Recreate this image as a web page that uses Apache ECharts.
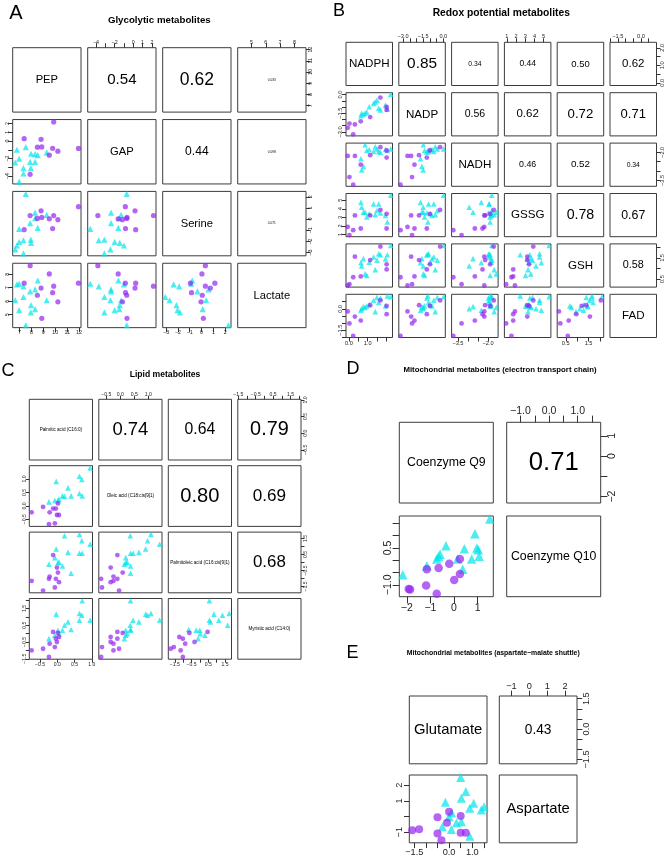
<!DOCTYPE html>
<html><head><meta charset="utf-8">
<script src="https://cdn.jsdelivr.net/npm/echarts@6/dist/echarts.min.js"></script>
<style>html,body{margin:0;padding:0;background:#fff}#c{width:670px;height:865px}</style>
</head><body><div id="c"></div>
<script>
// ================= DATA =================
// ---- Panel A: Glycolytic metabolites ----
const A_names = ['PEP', 'GAP', 'Serine', 'Lactate'];
const A_purple_PEP     = [7.89, 7.39, 9.50, 8.81, 8.50, 9.87, 9.78, 10.22, 8.87, 11.95];
const A_purple_GAP     = [-3.80, 0.26, -1.62, 0.19, -0.70, 2.17, -0.83, -1.16, -0.67, -0.85];
const A_purple_Serine  = [0.32, -0.94, 0.03, 0.74, 0.06, 0.32, -0.85, -0.05, 0.15, 1.12];
const A_purple_Lactate = [8.63, 7.33, 8.02, 6.97, 6.44, 7.11, 6.63, 5.95, 4.73, 7.33];
const A_cyan_PEP     = [6.64, 6.78, 6.97, 6.97, 7.33, 7.33, 7.53, 7.89, 7.97, 7.95, 8.31, 8.31, 8.53, 9.28];
const A_cyan_GAP     = [-2.45, -1.00, -4.62, -2.00, -3.10, -3.70, -0.70, -2.38, -1.45, -3.10, -2.38, -1.50, -1.60, -1.30];
const A_cyan_Serine  = [-2.70, -2.36, -0.88, -2.03, -3.07, -1.89, 2.27, -0.35, -2.12, -1.83, 0.59, 0.09, -0.79, 0.39];
const A_cyan_Lactate = [6.07, 7.24, 7.29, 5.34, 6.31, 7.09, 4.22, 6.73, 5.71, 5.17, 6.87, 5.41, 7.53, 6.07];
const A_ticks = [[7,8,9,10,11,12], [-4,-3,-2,-1,0,1,2], [-3,-2,-1,0,1,2], [5,6,7,8]];
const A_xlabels = [[7,8,9,10,11,12], [-4,-2,0,1,2], [-3,-2,-1,0,1,2], [5,6,7,8]];
const A_ylabels = [[7,8,9,10,11,12], [-4,-2,0,1,2], [-3,-2,-1,0,1,2], [5,6,7,8]];
const A_corr = ['0.54', '0.62', '0.033', '0.44', '0.098', '0.071'];

// ---- Panel B: Redox potential metabolites ----
const B_names = ['NADPH', 'NADP', 'NADH', 'GSSG', 'GSH', 'FAD'];
const B_purple_NADPH = [-0.06, 0.03, 0.23, 0.32, 0.63, 1.13, 1.67, 2.00, 2.00];
const B_purple_NADP  = [-2.67, -2.33, -3.19, -2.40, -2.15, -1.81, -0.24, -1.23, -1.00];
const B_purple_NADH  = [-2.19, -3.32, -3.73, -2.19, -2.66, -2.15, -1.72, -2.28, -1.90];
const B_purple_GSSG  = [1.88, 0.92, 1.50, 3.22, 1.69, 3.22, 3.87, 1.69, 3.41];
const B_purple_GSH   = [0.20, 0.26, 0.59, 1.56, 0.63, 1.40, 2.04, 0.96, 1.20];
const B_purple_FAD   = [-0.19, -1.03, -1.90, -0.55, -0.83, 0.25, 0.58, -0.38, 0.20];
const B_cyan_NADPH = [0.64, 0.68, 0.77, 0.86, 0.95, 1.08, 1.31, 1.49, 1.58, 1.67, 1.94, 2.04, 2.22, 1.40];
const B_cyan_NADP  = [-1.70, -1.50, -1.60, -1.49, -1.40, -0.98, -0.71, -0.45, -1.10, -1.23, -0.84, -1.15, 0.02, -0.60];
const B_cyan_NADH  = [-2.34, -2.94, -2.75, -1.59, -1.90, -1.85, -1.95, -1.82, -1.95, -1.99, -1.85, -1.90, -1.82, -1.70];
const B_cyan_GSSG  = [4.75, 4.17, 3.60, 3.60, 3.03, 3.41, 4.56, 3.79, 4.56, 3.50, 3.22, 2.45, 5.60, 3.30];
const B_cyan_GSH   = [1.28, 1.12, 1.47, 0.75, 0.68, 1.30, 1.55, 1.40, 1.70, 1.65, 1.45, 1.65, 2.09, 0.95];
const B_cyan_FAD   = [-0.10, 0.00, 0.15, 0.10, 0.20, 0.30, 0.60, 0.80, 0.45, 0.75, 0.20, 0.90, 0.85, -0.20];
const B_ticks = [[0,0.5,1,1.5,2], [-3,-2.5,-2,-1.5,-1,-0.5,0], [-3.5,-3,-2.5,-2,-1.5], [1,2,3,4,5], [0.5,1,1.5,2], [-2,-1.5,-1,-0.5,0,0.5]];
const B_xlabels = [[0,1], [-3,-1.5,0], [-3.5,-2], [1,2,3,4,5], [0.5,1.5], [-1.5,0]];
const B_ylabels = [[0,1,2], [-3,-1.5,0], [-3.5,-2], [1,2,3,4,5], [0.5,1.5], [-1.5,0]];
const B_corr = ['0.85','0.34','0.44','0.50','0.62', '0.56','0.62','0.72','0.71', '0.46','0.52','0.34', '0.78','0.67', '0.58'];

// ---- Panel C: Lipid metabolites ----
const C_names = ['Palmitic acid (C16:0)', 'Oleic acid (C18:cis[9]1)', 'Palmitoleic acid (C16:cis[9]1)', 'Myristic acid (C14:0)'];
const C_purple_Palmitic    = [-0.74, -0.41, -0.24, -0.22, -0.12, -0.07, -0.04, -0.01, 0.02, 0.05];
const C_purple_Oleic       = [-0.24, -0.04, -0.68, -0.24, -0.10, -0.65, -0.10, -0.34, 0.09, -0.34];
const C_purple_Palmitoleic = [-1.15, -1.75, -1.02, -0.88, 0.46, -1.56, -1.02, -0.32, -0.63, -1.23];
const C_purple_Myristic    = [-1.00, -0.90, -1.39, -0.60, 0.10, -0.80, -0.30, -0.50, 0.04, -0.20];
const C_cyan_Palmitic    = [0.95, -0.03, 0.64, 0.71, 0.31, 0.15, 0.40, 0.64, 0.72, -0.07, 0.02, -0.24, 0.21, 0.05];
const C_cyan_Oleic       = [1.41, 0.91, 1.10, 0.98, 0.67, 0.37, 0.37, 0.46, 0.37, 0.20, 0.20, 0.15, 0.36, 0.25];
const C_cyan_Palmitoleic = [1.13, 0.84, 1.75, 1.35, 0.63, -0.22, -0.67, 0.57, 0.57, 0.30, -0.01, -0.11, 1.66, 0.02];
const C_cyan_Myristic    = [0.80, 1.16, 1.20, 1.10, 0.70, 0.20, 0.25, 0.80, 1.96, -0.10, 0.20, -0.30, 0.50, 0.00];
const C_ticks = [[-0.5,0,0.5,1], [-0.5,0,0.5,1], [-1.5,-1,-0.5,0,0.5,1,1.5], [-1.5,-1,-0.5,0,0.5,1,1.5,2]];
const C_xlabels = [[-0.5,0,0.5,1], [-0.5,0,0.5,1], [-1.5,-0.5,0.5,1.5], [-1.5,-0.5,0.5,1.5]];
const C_ylabels = [[-0.5,0,0.5,1], [-0.5,0,0.5,1], [-1.5,-0.5,0.5,1.5], [-1.5,-0.5,0.5,1.5]];
const C_corr = ['0.74','0.64','0.79','0.80','0.69','0.68'];

// ---- Panel D: electron transport chain ----
const D_names = ['Coenzyme Q9', 'Coenzyme Q10'];
const D_purple_Q9  = [-1.86, -1.92, -1.15, -1.18, -0.73, -0.65, -0.20, 0.01, 0.25, 0.25];
const D_purple_Q10 = [-1.19, -1.17, -0.36, -1.03, -1.36, -0.31, -0.14, -0.80, 0.05, -0.56];
const D_cyan_Q9  = [-2.17, -1.15, -0.73, -0.59, -0.34, 0.15, 0.37, 0.44, 0.75, 0.89, 1.03, 1.07, 1.52, -0.65, 0.97];
const D_cyan_Q10 = [-0.59, -0.22, 0.05, 0.25, 0.59, 0.05, -0.36, 0.47, 0.05, 1.08, 0.43, 0.16, 1.68, 0.15, 0.50];
const D_ticks = [[-2,-1,0,1], [-1,-0.5,0,0.5,1,1.5]];
const D_xlabels = [[-2,-1,0,1], [-1,0,1]];
const D_ylabels = [[-2,0,1], [-1,0.5]];
const D_corr = ['0.71'];

// ---- Panel E: aspartate-malate shuttle ----
const E_names = ['Glutamate', 'Aspartate'];
const E_purple_Glu = [-1.59, -1.29, -0.50, -0.50, -0.33, -0.09, 0.00, 0.50, 0.50, 0.72];
const E_purple_Asp = [-0.87, -0.81, -0.05, -1.09, -1.52, -0.40, 0.31, 0.03, -1.04, -1.04];
const E_cyan_Glu = [0.50, 0.72, 0.53, -0.16, 1.06, 0.89, 1.51, 1.39, 0.11, 0.00, 0.32, 0.53, -0.29, 0.10, 0.89];
const E_cyan_Asp = [2.50, 1.60, 1.17, 0.91, 0.85, 0.53, 0.63, 0.42, 0.25, -0.01, -0.40, -0.33, -0.66, -0.83, -1.26];
const E_ticks = [[-1.5,-1,-0.5,0,0.5,1,1.5], [-1,0,1,2]];
const E_xlabels = [[-1.5,0,1], [-1,0,1,2]];
const E_ylabels = [[-1.5,0,1.5], [-1,1,2]];
const E_corr = ['0.43'];

// ================= RENDER =================
const FONT = '"Liberation Sans", Arial, Helvetica, sans-serif';
const PURPLE = 'rgba(148,36,240,0.88)';
const CYAN = 'rgba(0,228,234,0.88)';

function fmt(v, d) { const s = Math.abs(v).toFixed(d); return (v < -1e-9 ? '\u2212' : '') + s; }
function rng(a) { const mn = Math.min(...a), mx = Math.max(...a), s = mx - mn; return [mn - 0.04 * s, mx + 0.04 * s]; }

const option = { animation: false, backgroundColor: '#fff', grid: [], xAxis: [], yAxis: [], series: [], graphic: [] };

function txt(x, y, text, fs, bold) {
  option.graphic.push({ type: 'text', x: x, y: y, silent: true, z: 100,
    style: { text: text, fontSize: fs, fontFamily: FONT, fontWeight: bold ? 'bold' : 'normal', fill: '#000', align: 'center', verticalAlign: 'middle' } });
}

function axis(gi, r, ticks, labs, dec, show, pos, P, isY) {
  return { type: 'value', gridIndex: gi, min: r[0], max: r[1], position: pos,
    axisLine: { show: false, onZero: false }, splitLine: { show: false },
    axisTick: { show: show, inside: false, length: P.tick, customValues: ticks, lineStyle: { color: '#333', width: 1 } },
    axisLabel: { show: show, customValues: labs, formatter: (v) => fmt(v, dec), fontSize: P.afs, fontFamily: FONT, color: '#222', margin: P.margin, rotate: isY ? 90 : 0 } };
}

function addMatrix(P) {
  const n = P.names.length;
  const R = P.names.map((_, k) => rng(P.purple[k].concat(P.cyan[k])));
  let c = 0;
  for (let i = 0; i < n; i++) for (let j = 0; j < n; j++) {
    const gi = option.grid.length;
    const left = P.x0 + j * P.sx, top = P.y0 + i * P.sy;
    option.grid.push({ left: left, top: top, width: P.w, height: P.h, show: true, borderColor: '#3c3c3c', borderWidth: 1, backgroundColor: 'rgba(0,0,0,0)' });
    const showX = (i === n - 1 && j % 2 === 0) || (i === 0 && j % 2 === 1);
    const showY = (j === n - 1 && i % 2 === 0) || (j === 0 && i % 2 === 1);
    option.xAxis.push(axis(gi, R[j], P.ticks[j], P.xlab[j], P.dec[j], showX, j % 2 === 0 ? 'bottom' : 'top', P, false));
    option.yAxis.push(axis(gi, R[i], P.ticks[i], P.ylab[i], P.dec[i], showY, i % 2 === 0 ? 'right' : 'left', P, true));
    const cx = left + P.w / 2, cy = top + P.h / 2;
    if (i > j) {
      option.series.push({ type: 'scatter', xAxisIndex: gi, yAxisIndex: gi, symbol: 'triangle', symbolSize: P.tri, silent: true,
        itemStyle: { color: CYAN }, data: P.cyan[j].map((v, k) => [v, P.cyan[i][k]]) });
      option.series.push({ type: 'scatter', xAxisIndex: gi, yAxisIndex: gi, symbol: 'circle', symbolSize: P.dot, silent: true,
        itemStyle: { color: PURPLE }, data: P.purple[j].map((v, k) => [v, P.purple[i][k]]) });
    } else if (i === j) {
      txt(cx, cy, P.names[i], P.diagFs);
    } else {
      const s = P.corr[c++];
      txt(cx, cy, s, Math.max(P.cMin, P.cA * parseFloat(s) + P.cB));
    }
  }
}

addMatrix({ names: A_names,
  purple: [A_purple_PEP, A_purple_GAP, A_purple_Serine, A_purple_Lactate],
  cyan: [A_cyan_PEP, A_cyan_GAP, A_cyan_Serine, A_cyan_Lactate],
  ticks: A_ticks, xlab: A_xlabels, ylab: A_ylabels, dec: [0, 0, 0, 0], corr: A_corr,
  x0: 12.7, y0: 47.7, w: 68.3, h: 64.4, sx: 75, sy: 71.85,
  afs: 5.3, tick: 4.5, margin: 2.5, diagFs: 11.2, cA: 30, cB: -1.1, cMin: 3.2, dot: 5.2, tri: 6.2 });

addMatrix({ names: B_names,
  purple: [B_purple_NADPH, B_purple_NADP, B_purple_NADH, B_purple_GSSG, B_purple_GSH, B_purple_FAD],
  cyan: [B_cyan_NADPH, B_cyan_NADP, B_cyan_NADH, B_cyan_GSSG, B_cyan_GSH, B_cyan_FAD],
  ticks: B_ticks, xlab: B_xlabels, ylab: B_ylabels, dec: [1, 1, 1, 0, 1, 1], corr: B_corr,
  x0: 346, y0: 42.3, w: 46.5, h: 43.2, sx: 52.8, sy: 50.4,
  afs: 5.6, tick: 4, margin: 2.5, diagFs: 11.6, cA: 16.8, cB: 1.1, cMin: 4, dot: 4.8, tri: 5.6 });

addMatrix({ names: C_names,
  purple: [C_purple_Palmitic, C_purple_Oleic, C_purple_Palmitoleic, C_purple_Myristic],
  cyan: [C_cyan_Palmitic, C_cyan_Oleic, C_cyan_Palmitoleic, C_cyan_Myristic],
  ticks: C_ticks, xlab: C_xlabels, ylab: C_ylabels, dec: [1, 1, 1, 1], corr: C_corr,
  x0: 29.3, y0: 399.3, w: 63.2, h: 60.7, sx: 69.5, sy: 66.4,
  afs: 5.1, tick: 3.5, margin: 2.5, diagFs: 4.6, cA: 27, cB: -1.5, cMin: 4, dot: 4.8, tri: 5.6 });

addMatrix({ names: D_names,
  purple: [D_purple_Q9, D_purple_Q10], cyan: [D_cyan_Q9, D_cyan_Q10],
  ticks: D_ticks, xlab: D_xlabels, ylab: D_ylabels, dec: [0, 1], corr: D_corr,
  x0: 399.3, y0: 422.3, w: 94, h: 80.7, sx: 107.4, sy: 93.7,
  afs: 10.5, tick: 6.7, margin: 6, diagFs: 12.3, cA: 36.2, cB: 0, cMin: 4, dot: 8.5, tri: 9.5 });

addMatrix({ names: E_names,
  purple: [E_purple_Glu, E_purple_Asp], cyan: [E_cyan_Glu, E_cyan_Asp],
  ticks: E_ticks, xlab: E_xlabels, ylab: E_ylabels, dec: [1, 0], corr: E_corr,
  x0: 409.3, y0: 696, w: 77.7, h: 67.8, sx: 90, sy: 79,
  afs: 9.2, tick: 5.3, margin: 5, diagFs: 14.8, cA: 31.9, cB: 0, cMin: 4, dot: 8, tri: 9 });

// titles and panel letters
txt(16, 13, 'A', 20); txt(159.3, 20, 'Glycolytic metabolites', 9.7, true);
txt(339, 11, 'B', 18); txt(501.3, 12.7, 'Redox potential metabolites', 10.3, true);
txt(8, 371, 'C', 18); txt(165, 374.3, 'Lipid metabolites', 8.6, true);
txt(353, 369, 'D', 18); txt(500, 370, 'Mitochondrial metabolites (electron transport chain)', 7.8, true);
txt(352.5, 653, 'E', 18); txt(493.3, 653.3, 'Mitochondrial metabolites (aspartate\u2212malate shuttle)', 6.9, true);

const chart = echarts.init(document.getElementById('c'), null, { renderer: 'canvas' });
chart.setOption(option);
</script>
</body></html>
